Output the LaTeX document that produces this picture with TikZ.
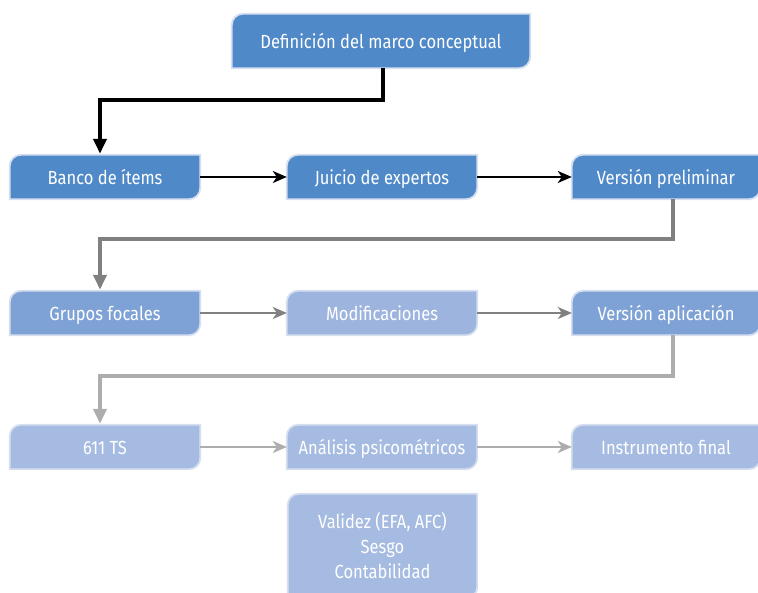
\documentclass[tikz,border=0pt]{standalone}
\usepackage{fontspec}
\setmainfont{Fira Sans}[FakeStretch=0.87]
\usetikzlibrary{arrows.meta,calc,backgrounds}
\definecolor{cA}{HTML}{5089C8}
\definecolor{cB}{HTML}{7FA2D6}
\definecolor{cC}{HTML}{9DB4DF}
\definecolor{cD}{HTML}{A6BBE1}
\definecolor{edgec}{HTML}{D6DFEF}
\definecolor{gDark}{HTML}{808080}
\definecolor{gLight}{HTML}{ADADAD}
\tikzset{
  box/.style={rectangle, minimum width=190pt, minimum height=44pt, inner sep=0pt,
    text=white, font=\fontsize{19}{25}\selectfont, align=center,
    text height=16pt, text depth=1pt},
  thickline/.style={line width=4.5pt, -{Triangle[length=15pt,width=13pt]}},
  thinline/.style={line width=1.8pt, -{Stealth[length=14pt,width=12pt,inset=4pt]}},
}
\newcommand\boxshape[2]{%
  \path[fill=#2, draw=edgec, line width=1.8pt]
    (#1.south west) -- ($(#1.north west)+(0,-11pt)$)
    arc[start angle=180,end angle=90,radius=11pt] -- (#1.north east)
    -- ($(#1.south east)+(0,11pt)$)
    arc[start angle=0,end angle=-90,radius=11pt] -- cycle;}
\begin{document}
\begin{tikzpicture}[x=1pt,y=1pt]
\useasboundingbox (0,0) rectangle (758,592);
% nodes (y = 592 - pixel y)
\node[box, minimum width=298pt, minimum height=54pt] (top) at (381,551) {Definición del marco conceptual};
\node[box] (banco) at (105,415) {Banco de ítems};
\node[box] (juicio) at (382,415) {Juicio de expertos};
\node[box, minimum width=188pt] (vp) at (666,415) {Versión preliminar};
\node[box] (grupos) at (105,279) {Grupos focales};
\node[box] (modif) at (382,279) {Modificaciones};
\node[box, minimum width=188pt] (va) at (666,279) {Versión aplicación};
\node[box] (ts) at (105,145) {611 TS};
\node[box] (ana) at (382,145) {Análisis psicométricos};
\node[box, minimum width=188pt] (inst) at (666,145) {Instrumento final};
\node[box, minimum width=189pt, minimum height=104pt, text height=, text depth=] (val) at (382.5,46) {Validez (EFA, AFC)\\Sesgo\\Contabilidad};
\begin{scope}[on background layer]
\boxshape{top}{cA}
\boxshape{banco}{cA}
\boxshape{juicio}{cA}
\boxshape{vp}{cA}
\boxshape{grupos}{cB}
\boxshape{modif}{cC}
\boxshape{va}{cB}
\boxshape{ts}{cD}
\boxshape{ana}{cD}
\boxshape{inst}{cD}
\boxshape{val}{cD}
\end{scope}
% connectors
\draw[thickline, black] ([xshift=2pt]top.south) -- ++(0,-32) -| ([xshift=-5pt,yshift=1pt]banco.north);
\draw[thinline, black] (banco) -- (juicio);
\draw[thinline, black] (juicio) -- (vp);
\draw[thickline, gDark] ([xshift=7pt]vp.south) -- ++(0,-40) -| ([xshift=-5pt,yshift=1pt]grupos.north);
\draw[thinline, gDark] (grupos) -- (modif);
\draw[thinline, gDark] (modif) -- (va);
\draw[thickline, gLight] ([xshift=7pt]va.south) -- ++(0,-41) -| ([xshift=-5pt,yshift=1pt]ts.north);
\draw[thinline, gLight] (ts) -- (ana);
\draw[thinline, gLight] (ana) -- (inst);
\end{tikzpicture}
\end{document}
